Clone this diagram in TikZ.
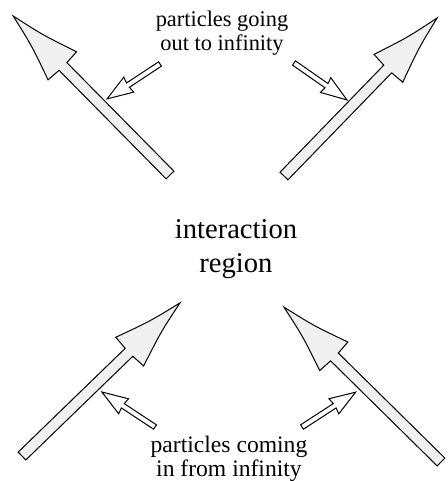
\documentclass[tikz,border=0pt]{standalone}
\usepackage{fontspec}
\setmainfont{Liberation Serif}
\tikzset{
  fatarrow/.style={draw=black, fill=black!6, line width=0.5pt, line join=miter},
  thinarrow/.style={draw=black, fill=white, line width=0.5pt, line join=miter},
  note/.style={align=center, inner sep=0pt, font=\fontsize{11.2}{12}\selectfont},
  bignote/.style={align=center, inner sep=0pt, font=\fontsize{14.3}{17}\selectfont},
}
% big arrow: tail, angle, length in pt
\newcommand{\bigarrow}[3]{%
  \begin{scope}[shift={#1}, rotate=#2]
    \path[fatarrow] (0pt,-2.75pt) -- ({#3pt-35.5pt},-2.75pt) -- ({#3pt-35pt},-10pt)
      .. controls ({#3pt-17pt},-3.8pt) .. (#3pt,0pt)
      .. controls ({#3pt-17pt},3.8pt) .. ({#3pt-35pt},10pt)
      -- ({#3pt-35.5pt},2.75pt) -- (0pt,2.75pt) -- cycle;
  \end{scope}}
% small hollow arrow: tail, angle, length in pt
\newcommand{\smallarrow}[3]{%
  \begin{scope}[shift={#1}, rotate=#2]
    \path[thinarrow] (0pt,-1.3pt) -- ({#3pt-12.5pt},-1.3pt) -- ({#3pt-13pt},-4.5pt)
      -- (#3pt,0pt) -- ({#3pt-13pt},4.5pt) -- ({#3pt-12.5pt},1.3pt) -- (0pt,1.3pt) -- cycle;
  \end{scope}}
\begin{document}
\begin{tikzpicture}[x=0.5pt, y=-0.5pt]
  \useasboundingbox (0,0) rectangle (448,481);

  % outgoing
  \bigarrow{(170,175)}{134.6}{111.7}
  \bigarrow{(284,176)}{45.9}{110}
  \smallarrow{(160,64)}{213.4}{31.7}
  \smallarrow{(294,63)}{-34.9}{32.3}

  % incoming
  \bigarrow{(22,456)}{44.1}{110}
  \bigarrow{(441,462)}{135.4}{110.3}
  \smallarrow{(155,427)}{146.6}{31.8}
  \smallarrow{(302,427)}{33}{32}

  % labels
  \node[note] (out) at (222,33) {particles going\\out to infinity};
  \node[bignote] (region) at (236,249) {interaction\\region};
  \node[note, font=\fontsize{11.8}{12}\selectfont] (in) at (229,459) {particles coming\\in from infinity};
\end{tikzpicture}
\end{document}
